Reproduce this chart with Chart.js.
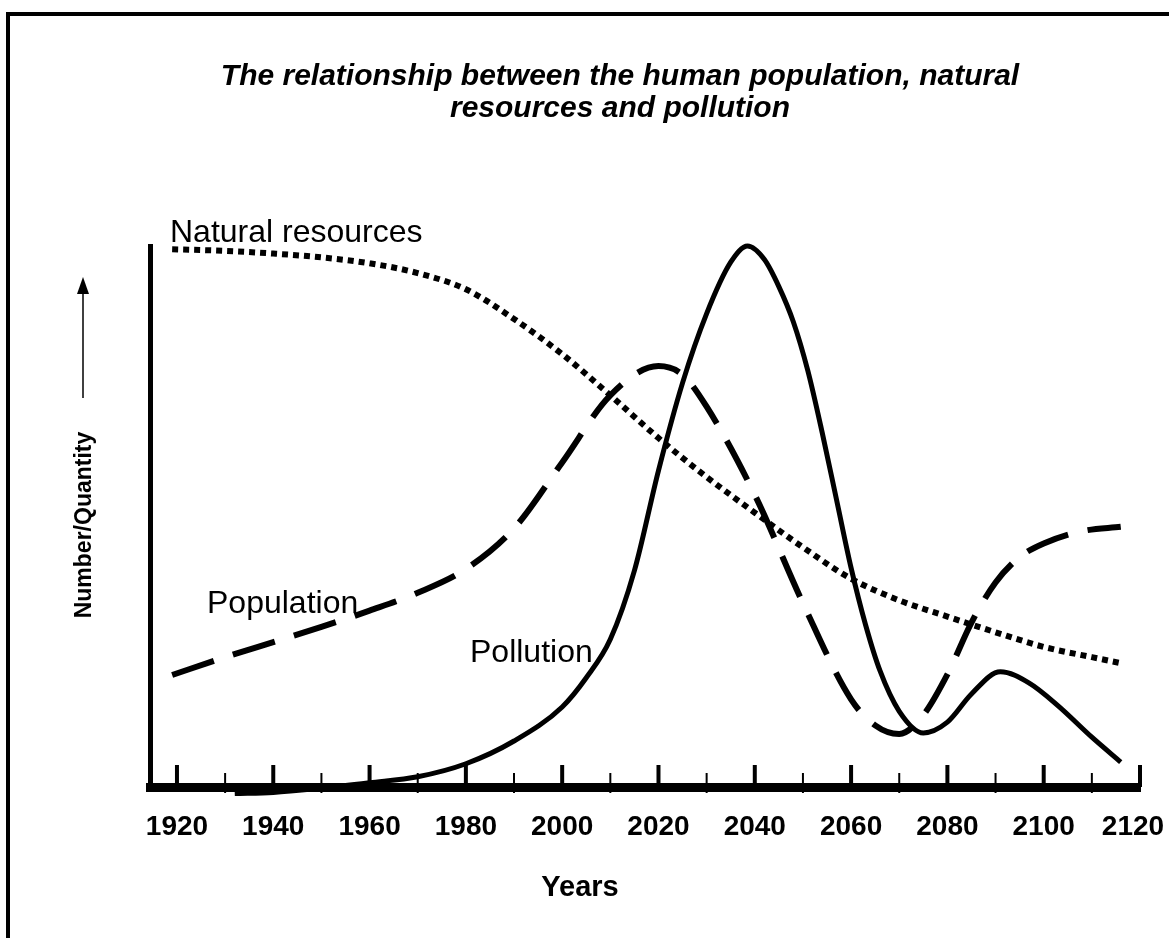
<!DOCTYPE html>
<html>
<head>
<meta charset="utf-8">
<title>Population, natural resources and pollution</title>
<script src="https://cdn.jsdelivr.net/npm/chart.js@4.4.1/dist/chart.umd.min.js"></script>
<style>
  html, body { margin: 0; padding: 0; background: #fff; }
  #wrap { width: 1169px; height: 938px; }
</style>
</head>
<body>
<div id="wrap"><canvas id="chart" width="1169" height="938"></canvas></div>
<script>
// values (relative units, 0 = x axis, 100 = top of y axis)
const resourceYears = [1919, 1930, 1940, 1950, 1960, 1970, 1980, 1990, 2000, 2010, 2020, 2030, 2040, 2050, 2060, 2070, 2080, 2090, 2100, 2110, 2116];
const resourceValues = [99.4, 99.1, 98.6, 97.9, 96.8, 95.0, 92.0, 86.5, 80.0, 72.4, 64.5, 57.3, 50.7, 44.3, 38.5, 34.5, 31.5, 28.6, 25.9, 24.0, 22.9];

const populationYears = [1919, 1930, 1940, 1950, 1960, 1970, 1980, 1990, 2000, 2010, 2020, 2025, 2030, 2040, 2050, 2060, 2065, 2070, 2075, 2080, 2085, 2090, 2095, 2100, 2108, 2116];
const populationValues = [20.7, 24.0, 26.8, 29.6, 32.6, 35.9, 40.3, 47.8, 60.0, 72.4, 77.8, 76.2, 70.3, 54.0, 34.0, 16.2, 11.4, 9.8, 13.3, 20.8, 30.4, 37.8, 42.5, 45.0, 47.3, 48.1];

const pollutionYears = [1932, 1940, 1950, 1960, 1970, 1980, 1990, 2000, 2005, 2010, 2015, 2020, 2025, 2030, 2035, 2038.5, 2042, 2045, 2048, 2051, 2054, 2057, 2060, 2063, 2066, 2070, 2075, 2080, 2085, 2091, 2097, 2103, 2110, 2116];
const pollutionValues = [-1.2, -1.0, -0.2, 0.8, 1.9, 4.3, 8.5, 14.8, 20.2, 27.3, 40.0, 58.5, 74.7, 87.5, 97.0, 100, 97.5, 92.5, 86.0, 77.0, 65.5, 53.0, 40.5, 30.0, 21.5, 14.0, 10.0, 12.0, 17.2, 21.3, 19.2, 15.0, 9.2, 4.6];

const tickYears = [1920, 1940, 1960, 1980, 2000, 2020, 2040, 2060, 2080, 2100, 2120];

const FONT = "'Liberation Sans', Arial, Helvetica, sans-serif";

function points(xs, ys) {
  return xs.map((x, i) => ({ x: x, y: ys[i] }));
}

// text put straight on the plot, like the hand labels of the original
const curveLabels = [
  { text: 'Natural resources', x: 170, y: 242 },
  { text: 'Population', x: 207, y: 613 },
  { text: 'Pollution', x: 470, y: 662 }
];

const decorations = {
  id: 'decorations',
  beforeDraw(chart) {
    const ctx = chart.ctx;
    ctx.save();
    ctx.strokeStyle = '#000';
    ctx.lineWidth = 4;
    ctx.beginPath();
    ctx.moveTo(8, chart.height);
    ctx.lineTo(8, 14);
    ctx.lineTo(chart.width, 14);
    ctx.stroke();
    ctx.restore();
  },
  afterDraw(chart) {
    const ctx = chart.ctx;
    const xs = chart.scales.x;
    const base = chart.chartArea.bottom;
    ctx.save();
    ctx.strokeStyle = '#000';

    // tick marks pointing up into the plot
    for (let yr = 1920; yr <= 2120; yr += 10) {
      const px = xs.getPixelForValue(yr);
      const major = (yr - 1920) % 20 === 0;
      ctx.lineWidth = major ? 4 : 2;
      ctx.beginPath();
      ctx.moveTo(px, major ? base : base + 6);
      ctx.lineTo(px, major ? base - 22 : base - 14);
      ctx.stroke();
    }

    ctx.fillStyle = '#000';
    ctx.textBaseline = 'alphabetic';
    ctx.textAlign = 'left';
    ctx.font = '32px ' + FONT;
    curveLabels.forEach(l => ctx.fillText(l.text, l.x, l.y));

    ctx.font = 'bold 29px ' + FONT;
    ctx.textAlign = 'center';
    ctx.fillText('Years', 580, 896);

    // y axis caption with its arrow
    ctx.save();
    ctx.translate(91, 525);
    ctx.rotate(-Math.PI / 2);
    ctx.font = 'bold 23px ' + FONT;
    ctx.fillText('Number/Quantity', 0, 0);
    ctx.restore();

    ctx.lineWidth = 1.5;
    ctx.beginPath();
    ctx.moveTo(83, 398);
    ctx.lineTo(83, 290);
    ctx.stroke();
    ctx.beginPath();
    ctx.moveTo(83, 277);
    ctx.lineTo(77, 294);
    ctx.lineTo(89, 294);
    ctx.closePath();
    ctx.fill();

    ctx.restore();
  }
};

new Chart(document.getElementById('chart'), {
  type: 'line',
  data: {
    datasets: [
      {
        label: 'Natural resources',
        data: points(resourceYears, resourceValues),
        borderColor: '#000',
        borderWidth: 6,
        borderDash: [6, 5],
        borderCapStyle: 'butt',
        pointRadius: 0,
        cubicInterpolationMode: 'monotone',
        clip: false
      },
      {
        label: 'Population',
        data: points(populationYears, populationValues),
        borderColor: '#000',
        borderWidth: 6,
        borderDash: [44, 20],
        borderCapStyle: 'butt',
        pointRadius: 0,
        cubicInterpolationMode: 'monotone',
        clip: false
      },
      {
        label: 'Pollution',
        data: points(pollutionYears, pollutionValues),
        borderColor: '#000',
        borderWidth: 5,
        pointRadius: 0,
        cubicInterpolationMode: 'monotone',
        clip: false
      }
    ]
  },
  options: {
    responsive: false,
    animation: false,
    layout: { padding: { left: 100, right: 29, top: 61, bottom: 0 } },
    plugins: {
      legend: { display: false },
      tooltip: { enabled: false },
      title: {
        display: true,
        text: ['The relationship between the human population, natural', 'resources and pollution'],
        color: '#000',
        font: { family: FONT, size: 30, weight: 'bold', style: 'italic', lineHeight: 1.05 },
        padding: { top: 0, bottom: 122 }
      }
    },
    scales: {
      x: {
        type: 'linear',
        min: 1914.4,
        max: 2120,
        grid: { display: false, drawTicks: false },
        border: { display: true, color: '#000', width: 9 },
        afterBuildTicks: axis => { axis.ticks = tickYears.map(v => ({ value: v })); },
        afterFit: axis => {
          axis.height = 151;
          // let the last label hang over the edge like in the original
          axis.paddingLeft = 0;
          axis.paddingRight = 0;
        },
        ticks: {
          color: '#000',
          padding: 23,
          maxRotation: 0,
          autoSkip: false,
          font: { family: FONT, size: 28, weight: 'bold' },
          // the last label sits a little left of its tick in the original
          callback: v => v === 2120 ? '2120\u2002' : String(v)
        }
      },
      y: {
        min: 0,
        max: 100,
        grid: { display: false, drawTicks: false },
        border: { display: true, color: '#000', width: 5 },
        ticks: { display: false },
        afterFit: axis => { axis.width = 50; }
      }
    }
  },
  plugins: [decorations]
});
</script>
</body>
</html>
